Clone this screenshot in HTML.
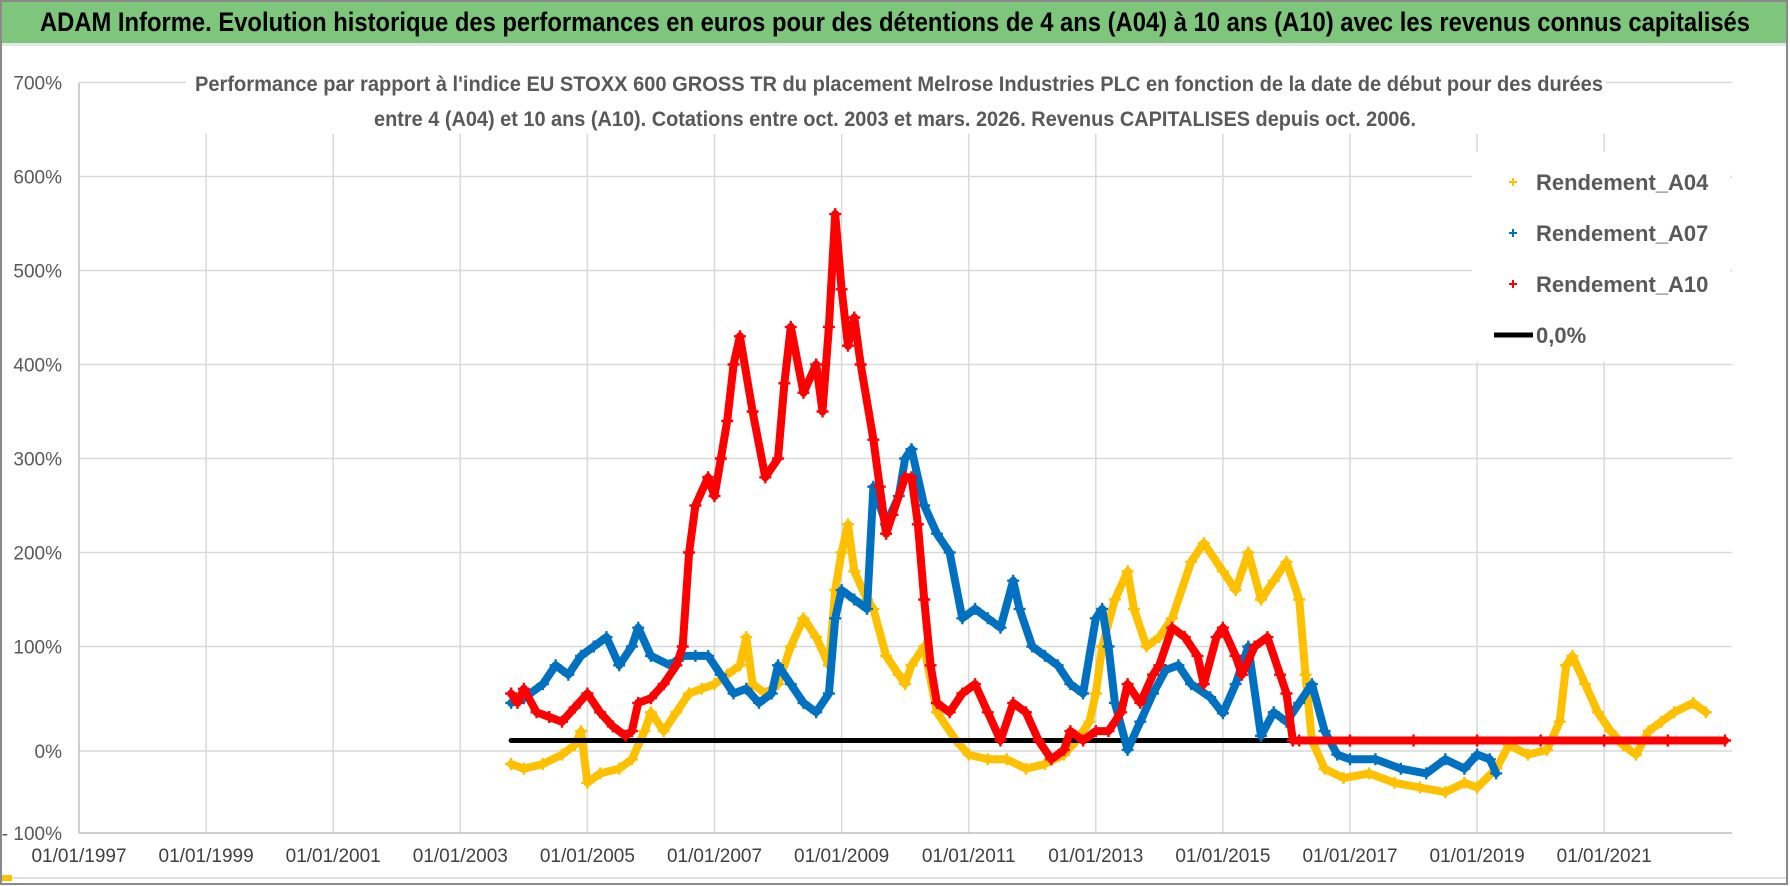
<!DOCTYPE html>
<html><head><meta charset="utf-8"><style>
html,body{margin:0;padding:0;background:#fff}
svg{display:block}
text{font-family:"Liberation Sans Narrow","Liberation Sans",sans-serif}
</style></head><body>
<svg id="chart" width="1790" height="886" viewBox="0 0 1790 886" xmlns="http://www.w3.org/2000/svg">
<rect x="0" y="0" width="1790" height="886" fill="#fff"/>
<rect x="1" y="1" width="1786" height="883" fill="none" stroke="#8a8a8a" stroke-width="2"/>
<rect x="2" y="2" width="1784" height="41" fill="#7dc67c"/>
<rect x="2" y="43" width="1784" height="3" fill="#e6e6e6"/>
<text x="895" y="31" text-anchor="middle" font-size="27" font-weight="bold" fill="#000" textLength="1710" lengthAdjust="spacingAndGlyphs">ADAM Informe. Evolution historique des performances en euros pour des détentions de 4 ans (A04) à 10 ans (A10) avec les revenus connus capitalisés</text>
<g id="grid"></g>
<g id="axes"></g>
<rect x="186" y="58" width="1420" height="76" fill="#fff"/>
<text x="899" y="91" text-anchor="middle" font-size="21" font-weight="bold" fill="#595959" textLength="1408" lengthAdjust="spacingAndGlyphs">Performance par rapport à l'indice EU STOXX 600 GROSS TR  du placement Melrose Industries PLC en fonction de la date de début pour des durées</text>
<text x="895" y="126" text-anchor="middle" font-size="21" font-weight="bold" fill="#595959" textLength="1042" lengthAdjust="spacingAndGlyphs">entre 4 (A04) et 10 ans (A10). Cotations entre oct. 2003 et mars. 2026. Revenus CAPITALISES depuis oct. 2006.</text>
<g id="series"></g>
<g id="legend">
<rect x="1472" y="152" width="258" height="210" fill="#fff"/>
<g>
<path d="M1509 182h8M1513 178v8" stroke="#ffc000" stroke-width="2"/>
<text x="1536" y="190" font-size="22" font-weight="bold" fill="#595959">Rendement_A04</text></g>
<g>
<path d="M1509 233h8M1513 229v8" stroke="#0070c0" stroke-width="2"/>
<text x="1536" y="241" font-size="22" font-weight="bold" fill="#595959">Rendement_A07</text></g>
<g>
<path d="M1509 284h8M1513 280v8" stroke="#ff0000" stroke-width="2"/>
<text x="1536" y="292" font-size="22" font-weight="bold" fill="#595959">Rendement_A10</text></g>
<g>
<line x1="1494" y1="335" x2="1533" y2="335" stroke="#000" stroke-width="5"/>
<text x="1536" y="343" font-size="22" font-weight="bold" fill="#595959">0,0%</text></g>
</g>
<rect x="2" y="877" width="1784" height="2" fill="#e0e0e0"/>
<rect x="2" y="875" width="10" height="6" fill="#ffc000"/>
</svg>
<script>
const yTicks = [700,600,500,400,300,200,100,0,-100];
const yTickLabels = ["700%","600%","500%","400%","300%","200%","100%","0%","- 100%"];
const xTickYears = [1997,1999,2001,2003,2005,2007,2009,2011,2013,2015,2017,2019,2021];
const xTickLabels = ["01/01/1997","01/01/1999","01/01/2001","01/01/2003","01/01/2005","01/01/2007","01/01/2009","01/01/2011","01/01/2013","01/01/2015","01/01/2017","01/01/2019","01/01/2021"];

const a04Years = [2003.8,2004.0,2004.3,2004.6,2004.8,2004.9,2005.0,2005.2,2005.5,2005.7,2005.9,2006.0,2006.2,2006.4,2006.6,2006.8,2007.0,2007.2,2007.4,2007.5,2007.6,2007.8,2008.0,2008.2,2008.4,2008.6,2008.8,2008.9,2009.0,2009.1,2009.2,2009.4,2009.5,2009.7,2009.9,2010.0,2010.1,2010.3,2010.5,2010.8,2011.0,2011.3,2011.6,2011.9,2012.2,2012.5,2012.7,2012.9,2013.0,2013.1,2013.3,2013.5,2013.6,2013.8,2014.0,2014.2,2014.5,2014.7,2015.0,2015.2,2015.4,2015.6,2015.8,2016.0,2016.2,2016.3,2016.4,2016.6,2016.9,2017.3,2017.7,2018.1,2018.5,2018.8,2019.0,2019.3,2019.5,2019.8,2020.1,2020.3,2020.4,2020.5,2020.7,2020.9,2021.1,2021.3,2021.5,2021.7,2021.9,2022.1,2022.4,2022.6];
const a04Values = [-25,-30,-25,-15,-5,10,-45,-35,-30,-20,10,30,10,30,50,55,60,70,80,110,60,50,60,100,130,110,80,160,200,230,180,150,140,90,70,60,80,100,30,0,-15,-20,-20,-30,-25,-15,0,20,50,100,150,180,140,100,110,130,190,210,180,160,200,150,170,190,150,70,0,-30,-40,-35,-45,-50,-55,-45,-50,-30,-5,-15,-10,20,80,90,60,30,10,-5,-15,10,20,30,40,30];

const a07Years = [2003.8,2004.0,2004.3,2004.5,2004.7,2004.9,2005.1,2005.3,2005.5,2005.7,2005.8,2006.0,2006.3,2006.5,2006.7,2006.9,2007.1,2007.3,2007.5,2007.7,2007.9,2008.0,2008.2,2008.4,2008.6,2008.8,2008.9,2009.0,2009.2,2009.4,2009.5,2009.7,2009.9,2010.0,2010.1,2010.3,2010.5,2010.7,2010.9,2011.1,2011.3,2011.5,2011.7,2011.8,2012.0,2012.2,2012.4,2012.6,2012.8,2013.0,2013.1,2013.2,2013.3,2013.5,2013.7,2013.9,2014.1,2014.3,2014.5,2014.8,2015.0,2015.2,2015.4,2015.6,2015.8,2016.0,2016.2,2016.4,2016.6,2016.8,2017.0,2017.4,2017.8,2018.2,2018.5,2018.8,2019.0,2019.2,2019.3];
const a07Values = [40,45,60,80,70,90,100,110,80,100,120,90,80,90,90,90,70,50,55,40,50,80,60,40,30,50,130,160,150,140,270,230,260,300,310,250,220,200,130,140,130,120,170,140,100,90,80,60,50,130,140,100,40,-10,20,50,75,80,60,46,29,60,100,5,30,20,40,60,10,-15,-20,-20,-30,-35,-20,-30,-15,-20,-35];

const a10Years = [2003.8,2003.9,2004.0,2004.2,2004.4,2004.6,2004.8,2005.0,2005.2,2005.4,2005.6,2005.7,2005.8,2006.0,2006.2,2006.4,2006.5,2006.6,2006.7,2006.9,2007.0,2007.1,2007.2,2007.3,2007.4,2007.6,2007.8,2008.0,2008.1,2008.2,2008.4,2008.6,2008.7,2008.8,2008.9,2009.0,2009.1,2009.2,2009.3,2009.5,2009.6,2009.7,2009.8,2010.0,2010.1,2010.2,2010.3,2010.4,2010.5,2010.7,2010.9,2011.1,2011.3,2011.5,2011.7,2011.9,2012.1,2012.3,2012.5,2012.6,2012.8,2013.0,2013.2,2013.4,2013.5,2013.7,2013.9,2014.0,2014.2,2014.4,2014.6,2014.7,2014.9,2015.0,2015.2,2015.3,2015.5,2015.7,2015.9,2016.0,2016.1,2016.2,2017.0,2018.0,2019.0,2020.0,2021.0,2022.0,2022.9];
const a10Values = [50,40,55,30,25,20,35,50,30,15,5,10,40,45,60,80,100,200,250,280,260,300,340,400,430,350,280,300,380,440,370,400,350,440,560,480,420,450,400,320,270,220,240,280,280,230,150,80,40,30,50,60,30,0,40,30,0,-20,-10,10,0,10,10,30,60,40,70,80,120,110,90,60,110,120,90,70,100,110,70,50,0,0,0,0,0,0,0,0,0];

const zeroLineYears = [2003.8,2016.2];
const zeroLineValues = [0,0];

const NS = "http://www.w3.org/2000/svg";
const X0 = 79, PX_PER_YEAR = 63.55, PLOT_RIGHT = 1732, PLOT_TOP = 83, PLOT_BOTTOM = 833;
function xScale(yr){ return X0 + (yr - 1997) * PX_PER_YEAR; }
function yScale(v){ return 740.5 - v * 0.94; }
function gridY(v){ return v === 0 ? 751 : (v === -100 ? PLOT_BOTTOM : yScale(v)); }
function mk(tag, attrs){ const e = document.createElementNS(NS, tag); for (const k in attrs) e.setAttribute(k, attrs[k]); return e; }

const grid = document.getElementById('grid');
const axes = document.getElementById('axes');
yTicks.forEach((v, i) => {
  const y = gridY(v);
  if (v !== -100) {
    const l = mk('line', {x1: X0, x2: PLOT_RIGHT, y1: y, y2: y, stroke: '#d9d9d9', 'stroke-width': 1.5});
    
    
    grid.appendChild(l);
  }
  const t = mk('text', {x: 62, y: y + 7, 'text-anchor': 'end', 'font-size': 19, fill: '#595959'});
  t.textContent = yTickLabels[i];
  
  
  axes.appendChild(t);
});
xTickYears.forEach((yr, i) => {
  const x = xScale(yr);
  if (i > 0) {
    const l = mk('line', {x1: x, x2: x, y1: PLOT_TOP, y2: PLOT_BOTTOM, stroke: '#d9d9d9', 'stroke-width': 1.5});
    
    
    grid.appendChild(l);
  }
  const t = mk('text', {x: x, y: 862, 'text-anchor': 'middle', 'font-size': 19, fill: '#404040'});
  t.textContent = xTickLabels[i];
  
  
  axes.appendChild(t);
});
const yAxis = mk('line', {x1: X0, x2: X0, y1: PLOT_TOP, y2: PLOT_BOTTOM, stroke: '#bfbfbf', 'stroke-width': 1.5});


axes.appendChild(yAxis);
const xAxis = mk('line', {x1: X0, x2: PLOT_RIGHT, y1: PLOT_BOTTOM, y2: PLOT_BOTTOM, stroke: '#bfbfbf', 'stroke-width': 1.5});


axes.appendChild(xAxis);

const layer = document.getElementById('series');
function drawScatter(years, values, color, name){
  const g = mk('g', {});
  
  
  const pts = years.map((yr, i) => xScale(yr).toFixed(1) + ',' + yScale(values[i]).toFixed(1)).join(' ');
  const band = mk('polyline', {points: pts, fill: 'none', stroke: color, 'stroke-width': 8, 'stroke-linejoin': 'round', 'stroke-linecap': 'round'});
  
  
  g.appendChild(band);
  years.forEach((yr, i) => {
    const x = xScale(yr), y = yScale(values[i]);
    const p = mk('path', {d: `M${x-6} ${y}h12M${x} ${y-6}v12`, stroke: color, 'stroke-width': 2.4});
    
    
    g.appendChild(p);
  });
  layer.appendChild(g);
}
drawScatter(a04Years, a04Values, '#ffc000', 'series-a04');
const zl = mk('line', {x1: xScale(zeroLineYears[0]), x2: xScale(zeroLineYears[1]), y1: yScale(zeroLineValues[0]), y2: yScale(zeroLineValues[1]), stroke: '#000', 'stroke-width': 5, 'stroke-linecap': 'round'});


layer.appendChild(zl);
drawScatter(a07Years, a07Values, '#0070c0', 'series-a07');
drawScatter(a10Years, a10Values, '#ff0000', 'series-a10');
</script>
</body></html>
